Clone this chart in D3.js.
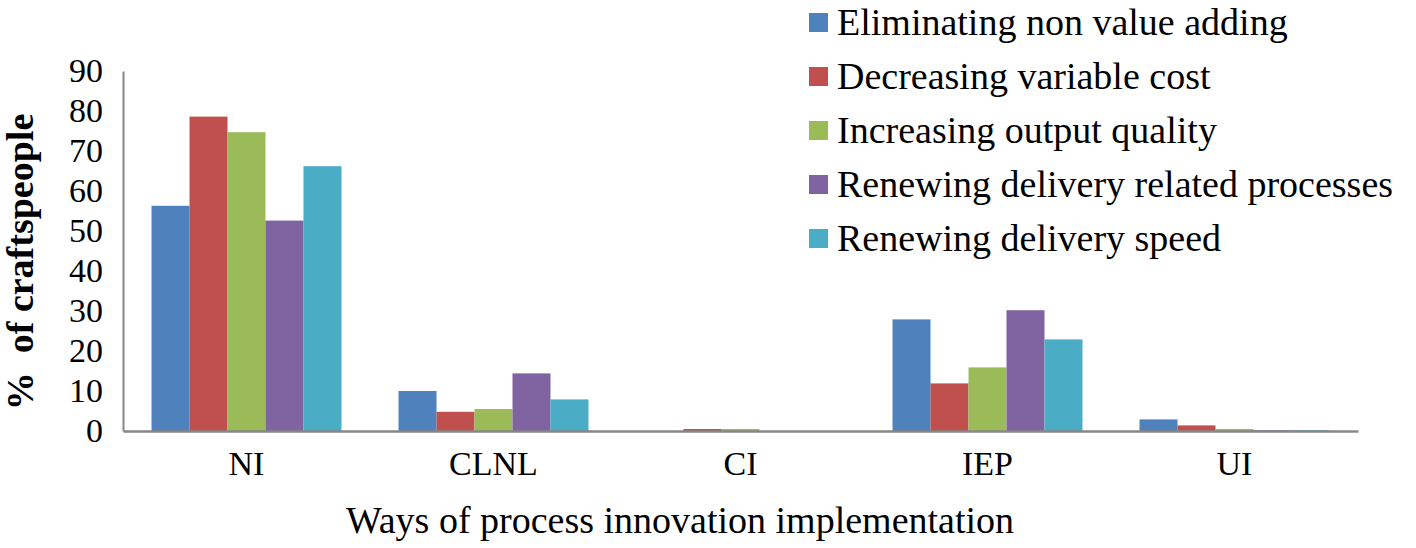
<!DOCTYPE html>
<html>
<head>
<meta charset="utf-8">
<script src="https://cdn.jsdelivr.net/npm/d3@7/dist/d3.min.js"></script>
<style>
  html, body { margin: 0; padding: 0; background: #fff; }
  svg { display: block; }
  text { font-family: "Liberation Serif", "Times New Roman", serif; fill: #000; }
</style>
</head>
<body>
<svg id="chart" width="1416" height="548"></svg>
<script>
const categories = ["NI", "CLNL", "CI", "IEP", "UI"];
const seriesNames = [
  "Eliminating non value adding",
  "Decreasing variable cost",
  "Increasing output quality",
  "Renewing delivery related processes",
  "Renewing delivery speed"
];
const eliminating = [56.3, 10.0, 0.0, 27.9, 2.9];
const decreasing  = [78.6, 4.8, 0.5, 11.9, 1.4];
const increasing  = [74.7, 5.5, 0.5, 15.9, 0.5];
const renewingRel = [52.6, 14.4, 0.0, 30.2, 0.2];
const renewingSpd = [66.2, 7.9, 0.0, 22.9, 0.2];
const yTicks = [0, 10, 20, 30, 40, 50, 60, 70, 80, 90];
const colors = ["#4F81BD", "#C0504D", "#9BBB59", "#8064A2", "#4BACC6"];

const seriesValues = [eliminating, decreasing, increasing, renewingRel, renewingSpd];

const svg = d3.select("#chart");
const mLeft = 123, mRight = 1358, mTop = 71, mBottom = 431;

const x0 = d3.scaleBand().domain(categories).range([mLeft, mRight])
  .paddingInner(0.231).paddingOuter(0.1155);
const x1 = d3.scaleBand().domain(d3.range(seriesNames.length)).range([0, x0.bandwidth()]);
const y = d3.scaleLinear().domain([0, 90]).range([mBottom, mTop]);

// bars
const groups = svg.append("g").selectAll("g").data(categories).join("g")
  .attr("transform", d => `translate(${x0(d)},0)`);
groups.selectAll("rect")
  .data((c, ci) => seriesValues.map((vals, si) => ({ si, v: vals[ci] })))
  .join("rect")
  .attr("x", d => x1(d.si))
  .attr("width", x1.bandwidth())
  .attr("y", d => y(d.v))
  .attr("height", d => y(0) - y(d.v))
  .attr("fill", d => colors[d.si]);

// y axis
const yAxis = d3.axisLeft(y).tickValues(yTicks).tickSize(0).tickPadding(20);
const gy = svg.append("g").attr("transform", `translate(${mLeft},0)`).call(yAxis);
gy.select(".domain").attr("stroke", "#878787").attr("stroke-width", 2);
gy.selectAll("text").attr("font-size", 34).attr("font-family", "Liberation Serif");

// x axis
const xAxis = d3.axisBottom(x0).tickSize(0).tickPadding(20);
const gx = svg.append("g").attr("transform", `translate(0,${mBottom})`).call(xAxis);
gx.select(".domain").attr("stroke", "#878787").attr("stroke-width", 2.5);
gx.selectAll("text").attr("font-size", 34).attr("font-family", "Liberation Serif");

// axis titles
svg.append("text")
  .attr("x", 680).attr("y", 533)
  .attr("text-anchor", "middle")
  .attr("font-size", 38)
  .text("Ways of process innovation implementation");

svg.append("text")
  .attr("transform", "translate(33,262) rotate(-90)")
  .attr("text-anchor", "middle")
  .attr("font-size", 38)
  .attr("font-weight", "bold")
  .style("white-space", "pre")
  .text("%  of craftspeople");

// legend
const legend = svg.append("g").attr("transform", "translate(809,0)");
const items = legend.selectAll("g").data(seriesNames).join("g")
  .attr("transform", (d, i) => `translate(0,${22 + i * 54})`);
items.append("rect")
  .attr("x", 0).attr("y", -9).attr("width", 19).attr("height", 19)
  .attr("fill", (d, i) => colors[i]);
items.append("text")
  .attr("x", 28).attr("y", 13)
  .attr("font-size", 38)
  .text(d => d);
</script>
</body>
</html>
